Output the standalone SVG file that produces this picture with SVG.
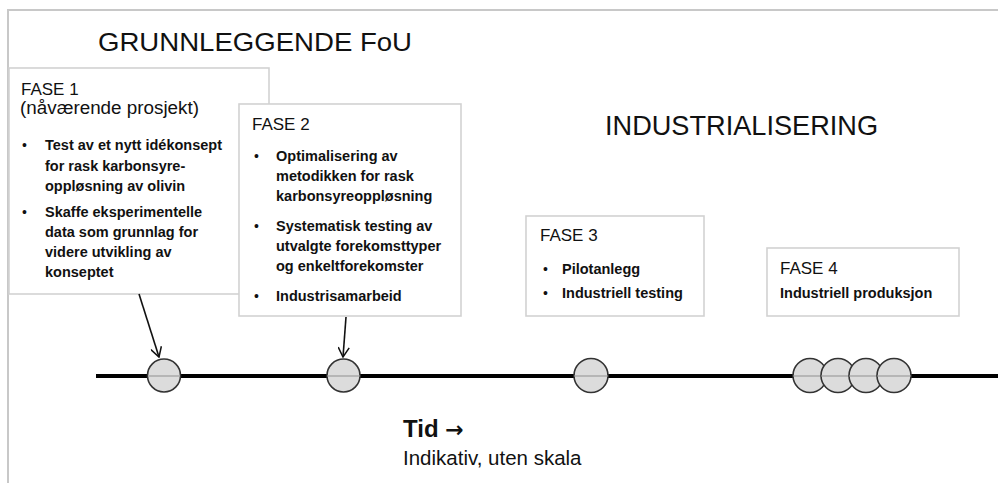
<svg xmlns="http://www.w3.org/2000/svg" width="998" height="483" viewBox="0 0 998 483">
<defs>
<style>
.t{font-family:"Liberation Sans",Arial,sans-serif;fill:#111}
.h{font-size:17px}
.b{font-size:14.5px;font-weight:bold}
.bu{font-size:14px}
.box{fill:#fff;stroke:#d2d2d2;stroke-width:1.6}
.c{fill:#dcdcdc;stroke:#333;stroke-width:1.6}
.cl{stroke:#aaa;stroke-width:1.5}
.ar{stroke:#111;stroke-width:1.6;fill:none}
</style>
<marker id="ah" viewBox="0 0 12 12" refX="10.5" refY="6" markerWidth="12" markerHeight="12" markerUnits="userSpaceOnUse" orient="auto">
<path d="M1,0.5 L10.5,6 L1,11.5" fill="none" stroke="#111" stroke-width="1.5"/>
</marker>
</defs>
<rect width="998" height="483" fill="#fff"/>
<path d="M8,483 V10 H998" fill="none" stroke="#c8c8c8" stroke-width="2"/>
<text class="t" x="98" y="51" font-size="26" textLength="314" lengthAdjust="spacingAndGlyphs">GRUNNLEGGENDE FoU</text>
<text class="t" x="605" y="135" font-size="27.5" textLength="273" lengthAdjust="spacingAndGlyphs">INDUSTRIALISERING</text>
<g id="fase1">
<rect class="box" x="9" y="68" width="260" height="226"/>
<text class="t h" x="21" y="95">FASE 1</text>
<text class="t" x="20" y="114" font-size="17.5" textLength="179" lengthAdjust="spacingAndGlyphs">(nåværende prosjekt)</text>
<text class="t bu" x="22" y="150">•</text>
<text class="t b" x="45" y="150">Test av et nytt idékonsept</text>
<text class="t b" x="45" y="171">for rask karbonsyre-</text>
<text class="t b" x="45" y="191">oppløsning av olivin</text>
<text class="t bu" x="22" y="217">•</text>
<text class="t b" x="45" y="217">Skaffe eksperimentelle</text>
<text class="t b" x="45" y="237">data som grunnlag for</text>
<text class="t b" x="45" y="257">videre utvikling av</text>
<text class="t b" x="45" y="277">konseptet</text>
</g>
<g id="fase2">
<rect class="box" x="239" y="104" width="222" height="212"/>
<text class="t h" x="252" y="130">FASE 2</text>
<text class="t bu" x="254" y="161">•</text>
<text class="t b" x="276" y="161">Optimalisering av</text>
<text class="t b" x="276" y="181">metodikken for rask</text>
<text class="t b" x="276" y="201">karbonsyreoppløsning</text>
<text class="t bu" x="254" y="231">•</text>
<text class="t b" x="276" y="231">Systematisk testing av</text>
<text class="t b" x="276" y="251">utvalgte forekomsttyper</text>
<text class="t b" x="276" y="271">og enkeltforekomster</text>
<text class="t bu" x="254" y="301">•</text>
<text class="t b" x="276" y="301">Industrisamarbeid</text>
</g>
<g id="fase3">
<rect class="box" x="526" y="216" width="178" height="100"/>
<text class="t h" x="540" y="241">FASE 3</text>
<text class="t bu" x="543" y="274">•</text>
<text class="t b" x="562" y="274">Pilotanlegg</text>
<text class="t bu" x="543" y="298">•</text>
<text class="t b" x="562" y="298">Industriell testing</text>
</g>
<g id="fase4">
<rect class="box" x="767" y="248" width="192" height="68"/>
<text class="t h" x="780" y="274">FASE 4</text>
<text class="t b" x="780" y="298">Industriell produksjon</text>
</g>
<g id="connectors">
<line class="ar" x1="139" y1="294" x2="159" y2="357" marker-end="url(#ah)"/>
<line class="ar" x1="346" y1="317" x2="343" y2="357" marker-end="url(#ah)"/>
<line x1="96" y1="376" x2="998" y2="376" stroke="#000" stroke-width="4"/>
</g>
<g id="m1"><circle class="c" cx="164" cy="375.5" r="16.5"/><line class="cl" x1="148" y1="376" x2="180" y2="376"/></g>
<g id="m2"><circle class="c" cx="343.5" cy="375.5" r="16.5"/><line class="cl" x1="327.5" y1="376" x2="359.5" y2="376"/></g>
<g id="m3"><circle class="c" cx="591" cy="375.5" r="17"/><line class="cl" x1="574.5" y1="376" x2="607.5" y2="376"/></g>
<g id="m4">
<circle class="c" cx="810" cy="375.5" r="17"/><line class="cl" x1="793.5" y1="376" x2="826.5" y2="376"/>
<circle class="c" cx="838" cy="375.5" r="17"/><line class="cl" x1="821.5" y1="376" x2="854.5" y2="376"/>
<circle class="c" cx="866" cy="375.5" r="17"/><line class="cl" x1="849.5" y1="376" x2="882.5" y2="376"/>
<circle class="c" cx="894" cy="375.5" r="17"/><line class="cl" x1="877.5" y1="376" x2="910.5" y2="376"/>
</g>
<text class="t" x="403" y="437" font-size="24" font-weight="bold">Tid <tspan font-family="'DejaVu Sans',sans-serif" font-size="22">→</tspan></text>
<text class="t" x="403" y="465" font-size="20.5">Indikativ, uten skala</text>
</svg>
